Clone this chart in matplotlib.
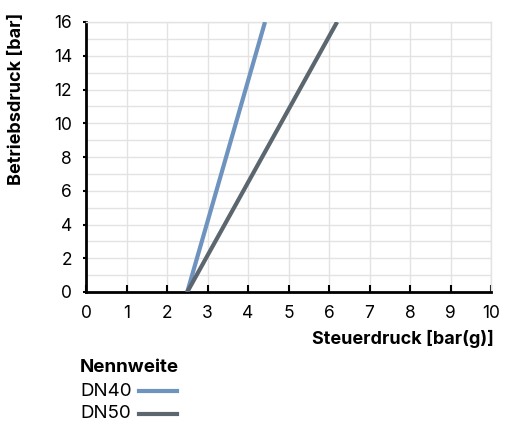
import matplotlib
matplotlib.use("Agg")
import matplotlib.pyplot as plt
from matplotlib.lines import Line2D

plt.rcParams['font.family'] = ['Inter', 'DejaVu Sans']

series_names = ["DN40", "DN50"]
dn40_x = [2.5, 4.42]
dn40_y = [0, 16]
dn50_x = [2.5, 6.2]
dn50_y = [0, 16]
colors = ["#6e93bf", "#5b666e"]
x_ticks = list(range(0, 11))
y_ticks = list(range(0, 17, 2))

fig = plt.figure(figsize=(5.05, 4.29), dpi=100)
ax = fig.add_axes([86/505, 1-292/429, (491-86)/505, (292-22)/429])

ax.plot(dn40_x, dn40_y, color=colors[0], lw=3, solid_capstyle='butt', zorder=3)
ax.plot(dn50_x, dn50_y, color=colors[1], lw=3, solid_capstyle='butt', zorder=3)

ax.set_xlim(0, 10)
ax.set_ylim(0, 16)
ax.set_xticks(x_ticks)
ax.set_yticks(y_ticks)
ax.set_yticks(range(0, 17), minor=True)
ax.grid(True, which='both', color='#e3e3e3', lw=1)
ax.set_axisbelow(True)
ax.tick_params(axis='y', which='major', length=2, width=1.5, direction='out', labelsize=12.5, pad=8)
ax.tick_params(axis='y', which='minor', length=0)
ax.tick_params(axis='x', which='major', length=5, width=1.5, direction='in', labelsize=12.5, pad=9)
ax.tick_params(axis='x', which='minor', length=0)
for s in ['top', 'right']:
    ax.spines[s].set_color('#e3e3e3')
    ax.spines[s].set_linewidth(1)
for s in ['left', 'bottom']:
    ax.spines[s].set_color('black')
    ax.spines[s].set_linewidth(2)

fig.text(494/505, 1-339/429, "Steuerdruck [bar(g)]", ha='right', va='center',
         fontsize=13, fontweight='bold')
fig.text(17/505, 1-99/429, "Betriebsdruck [bar]", ha='center', va='center',
         rotation=90, fontsize=13, fontweight='bold')

fig.text(80/505, 1-368/429, "Nennweite", ha='left', va='center', fontsize=13.5, fontweight='bold')
for i, name in enumerate(series_names):
    yy = 1 - (391 + 23*i)/429
    fig.text(80/505, yy, name, ha='left', va='center', fontsize=13.5)
    fig.add_artist(Line2D([139/505, 177/505], [yy, yy], color=colors[i], lw=3,
                          transform=fig.transFigure))

fig.savefig("out.png", dpi=100)
